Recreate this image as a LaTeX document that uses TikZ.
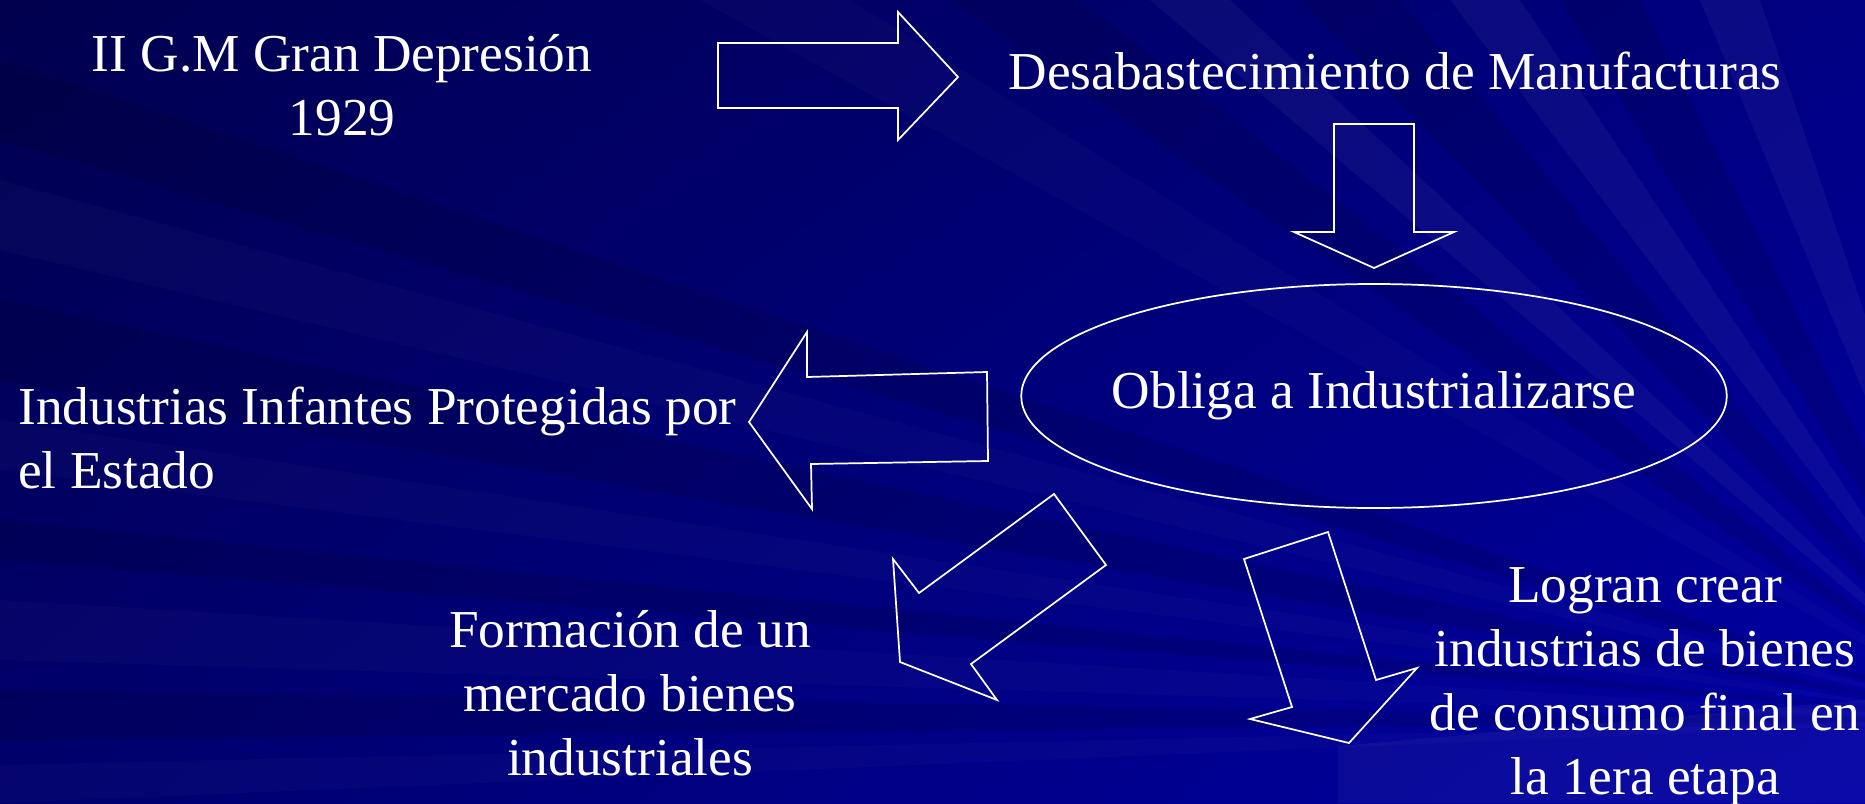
\documentclass[tikz,border=0pt]{standalone}
\usepackage{fontspec}
\setmainfont{Liberation Serif}
\usetikzlibrary{shapes.geometric,shadings}
\definecolor{bgdark}{RGB}{0,0,78}
\definecolor{bgleft}{RGB}{0,0,108}
\definecolor{bgmid}{RGB}{0,0,130}
\definecolor{bglight}{RGB}{0,0,165}

\begin{document}
\begin{tikzpicture}[x=0.75pt,y=0.75pt,yscale=-1,xscale=1,
    blockarrow/.style={draw=white, line width=1.3pt},
    slidetext/.style={text=white, inner sep=0pt, font=\fontsize{40}{48}\selectfont},
    streak/.style={fill=white, fill opacity=0.045},
    faintstreak/.style={fill=white, fill opacity=0.02},
    shadowstreak/.style={fill=black, fill opacity=0.11}]
    \useasboundingbox (0,0) rectangle (1865,803);
    %Shape: Background
    \shade[upper left=bgdark, upper right=bgmid, lower left=bgleft, lower right=bglight] (0,0) rectangle (1865,803);
    \begin{scope}
    \clip (0,0) rectangle (1865,803);
    \coordinate (rays) at (2000,720);
    %Shape: Streaks
    \fill[shadowstreak] (rays) -- (0,60) -- (0,140) -- cycle;
    \fill[faintstreak] (rays) -- (0,180) -- (0,250) -- cycle;
    \fill[shadowstreak] (rays) -- (0,300) -- (0,380) -- cycle;
    \fill[faintstreak] (rays) -- (0,420) -- (0,470) -- cycle;
    \fill[shadowstreak] (rays) -- (0,520) -- (0,560) -- cycle;
    \fill[faintstreak] (rays) -- (0,600) -- (0,660) -- cycle;
    \fill[shadowstreak] (rays) -- (0,690) -- (0,740) -- cycle;
    \fill[faintstreak] (rays) -- (0,765) -- (0,803) -- cycle;
    \fill[faintstreak] (rays) -- (700,0) -- (850,0) -- cycle;
    \fill[shadowstreak] (rays) -- (950,0) -- (1080,0) -- cycle;
    \fill[streak] (rays) -- (1150,0) -- (1230,0) -- cycle;
    \fill[shadowstreak] (rays) -- (1300,0) -- (1400,0) -- cycle;
    \fill[streak] (rays) -- (1450,0) -- (1520,0) -- cycle;
    \fill[shadowstreak] (rays) -- (1560,0) -- (1640,0) -- cycle;
    \fill[streak] (rays) -- (1700,0) -- (1760,0) -- cycle;
    \fill[streak] (1338,746) -- (1865,700) -- (1865,803) -- (1338,803) -- cycle;
    \end{scope}

    %Shape: Right Arrow
    \draw[blockarrow] (718,43) -- (898,43) -- (898,12) -- (958,77) -- (898,140) -- (898,108) -- (718,108) -- cycle ;
    %Shape: Down Arrow
    \draw[blockarrow] (1334,124) -- (1414,124) -- (1414,232) -- (1454,232) -- (1374,268) -- (1294,232) -- (1334,232) -- cycle ;
    %Shape: Left Arrow
    \draw[blockarrow] (807,377) -- (987,372) -- (988,461) -- (811,464) -- (812,509) -- (749,422) -- (807,332) -- cycle ;
    %Shape: Down Left Arrow
    \draw[blockarrow] (1054,494) -- (1106,565) -- (971,664) -- (997,700) -- (900,662) -- (893,559) -- (919,593) -- cycle ;
    %Shape: Down Right Arrow
    \draw[blockarrow] (1244,559) -- (1328,532) -- (1376,680) -- (1417,668) -- (1349,743) -- (1250,719) -- (1292,707) -- cycle ;

    % Text Node
    \draw (342,34) node [anchor=north][slidetext] [align=center] (depresion) {II G.M Gran Depresión\\1929};
    % Text Node
    \draw (1395,52) node [anchor=north][slidetext] (desabasto) {Desabastecimiento de Manufacturas};
    % Text Node
    \draw (1374,396) node [ellipse, draw=white, line width=1.3pt, minimum width=528pt, minimum height=168pt][slidetext] [inner xsep=-9.5pt] (obliga) {Obliga a Industrializarse};
    % Text Node
    \draw (18,387) node [anchor=north west][slidetext] [align=left] (infantes) {Industrias Infantes Protegidas por\\el Estado};
    % Text Node
    \draw (630,610) node [anchor=north][slidetext] [align=center] (mercado) {Formación de un\\mercado bienes\\industriales};
    % Text Node
    \draw (1645,567) node [anchor=north][slidetext] [align=center] (consumo) {Logran crear\\industrias de bienes\\de consumo final en\\la 1era etapa};
\end{tikzpicture}
\end{document}
